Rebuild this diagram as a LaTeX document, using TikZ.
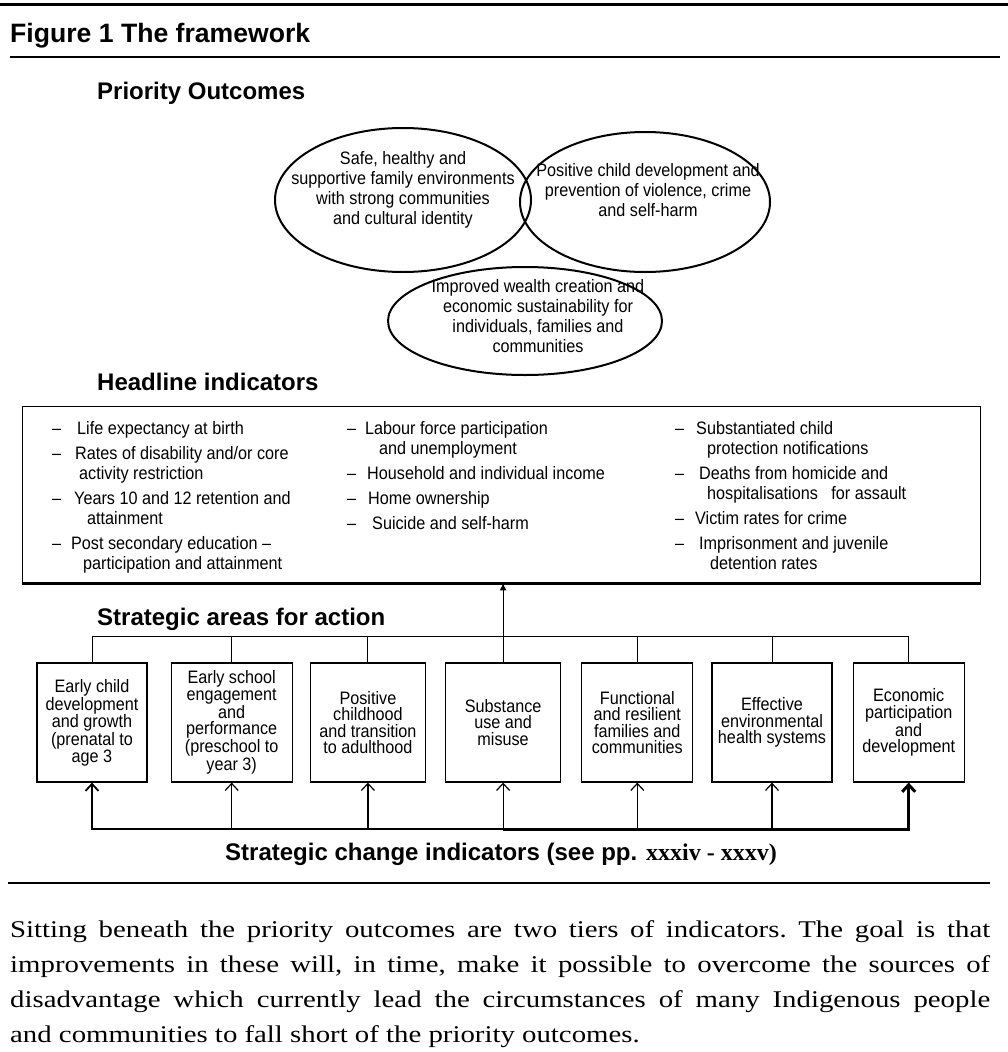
\documentclass[tikz,border=0pt]{standalone}
\usepackage{fontspec}
\setmainfont{Liberation Serif}
\newfontfamily\arialfont{Liberation Sans}
\newfontfamily\narrowfont{Liberation Sans}[FakeStretch=0.9]
\newfontfamily\widefont{Liberation Serif}[FakeStretch=1.2]
\usepackage{tikz}
\usetikzlibrary{shapes.geometric,arrows.meta,positioning,calc}
\tikzstyle{outcome}=[draw,ellipse,line width=2pt,inner sep=0pt]
\tikzstyle{outtext}=[align=center,inner sep=0pt,font=\narrowfont\fontsize{18}{20}\selectfont]
\tikzstyle{heading}=[anchor=base west,inner sep=0pt,font=\arialfont\bfseries\fontsize{24}{28}\selectfont]
\tikzstyle{hlist}=[anchor=north west,inner sep=0pt,align=left,font=\narrowfont\fontsize{18}{20}\selectfont]
\tikzstyle{area}=[draw,line width=1.2pt,minimum height=119pt,inner sep=0pt,align=center,font=\narrowfont\fontsize{18}{16.5}\selectfont]
\tikzstyle{uparrow}=[-{Straight Barb[length=7pt,width=13pt]}]
\newcommand{\hd}[1]{\makebox[#1pt][l]{\textendash}}
\newcommand{\hin}[1]{\hspace*{#1pt}}

\begin{document}
\begin{tikzpicture}[x=1pt,y=-1pt]
\useasboundingbox (0,0) rectangle (1008,1052);
\draw[line width=3pt] (0,4) -- (1008,4);
\node[heading,font=\arialfont\bfseries\fontsize{26.6}{30}\selectfont] (title) at (10,42) {Figure 1 The framework};
\draw[line width=2pt] (10,57) -- (1000,57);

% priority outcomes
\node[heading] (po) at (97,99) {Priority Outcomes};
\node[outcome,minimum width=256pt,minimum height=144pt] (safe) at (403,200) {};
\node[outcome,minimum width=250pt,minimum height=140pt] (child) at (645,202) {};
\node[outcome,minimum width=274pt,minimum height=108pt] (wealth) at (525,321) {};
\node[outtext] (safeText) at (403,190) {Safe, healthy and\\supportive family environments\\with strong communities\\and cultural identity};
\node[outtext] (childText) at (648,190) {Positive child development and\\prevention of violence, crime\\and self-harm};
\node[outtext] (wealthText) at (538,316) {Improved wealth creation and\\economic sustainability for\\individuals, families and\\communities};

% headline indicators
\node[heading] (hi) at (97,390) {Headline indicators};
\node[draw,line width=1.3pt,minimum width=958pt,minimum height=176pt,anchor=north west,inner sep=0pt] (head) at (22,406) {};
\draw[line width=2.5pt] (head.south west) -- (head.south east);
\node[hlist] (col1) at (52,421) {\hd{25}Life expectancy at birth\\[5pt]
  \hd{23}Rates of disability and/or core\\ \hin{27}activity restriction\\[5pt]
  \hd{22}Years 10 and 12 retention and\\ \hin{35}attainment\\[5pt]
  \hd{19}Post secondary education \textendash\\ \hin{31}participation and attainment};
\node[hlist] (col2) at (347,421) {\hd{18}Labour force participation\\ \hin{32}and unemployment\\[5pt]
  \hd{20}Household and individual income\\[5pt]
  \hd{21}Home ownership\\[5pt]
  \hd{25}Suicide and self-harm};
\node[hlist] (col3) at (675,421) {\hd{21}Substantiated child\\ \hin{32}protection notifications\\[5pt]
  \hd{24}Deaths from homicide and\\ \hin{32}hospitalisations\ \ \ for assault\\[5pt]
  \hd{20}Victim rates for crime\\[5pt]
  \hd{24}Imprisonment and juvenile\\ \hin{35}detention rates};

% strategic areas
\node[heading] (sa) at (97,625) {Strategic areas for action};
\node[area,minimum width=110pt] (b1) at (92,722.5) {Early child\\development\\and growth\\(prenatal to\\age 3};
\node[area,minimum width=121pt,right=23pt of b1] (b2) {Early school\\engagement\\and\\performance\\(preschool to\\year 3)};
\node[area,minimum width=115pt,right=17pt of b2] (b3) {Positive\\childhood\\and transition\\to adulthood};
\node[area,minimum width=115pt,right=19pt of b3] (b4) {Substance\\use and\\misuse};
\node[area,minimum width=111pt,right=20pt of b4] (b5) {Functional\\and resilient\\families and\\communities};
\node[area,minimum width=120pt,right=18pt of b5] (b6) {Effective\\environmental\\health systems};
\node[area,minimum width=111pt,right=20pt of b6] (b7) {Economic\\participation\\and\\development};

\coordinate (bar) at (0,636);
\coordinate (foot) at (0,829);
\draw[line width=1pt] (b1.north) -- (b1.north |- bar) -- (b7.north |- bar) -- (b7.north);
\foreach \b in {b2,b3,b5,b6} \draw[line width=1pt] (\b.north) -- (\b.north |- bar);
\draw[line width=1pt,-{Latex[length=7pt,width=7pt]}] (b4.north) -- (b4.north |- head.south);

% strategic change indicators
\draw[uparrow,line width=1.8pt] (b4.south |- foot) -- (b1.south |- foot) -- (b1.south);
\draw[uparrow,line width=3pt] (b4.south |- foot) -- (b7.south |- foot) -- (b7.south);
\foreach \b in {b2,b3,b4,b5,b6} \draw[uparrow,line width=1.2pt] (\b.south |- foot) -- (\b.south);
\node[anchor=base,inner sep=0pt,font=\arialfont\bfseries\fontsize{24}{28}\selectfont] (sci) at (501,860) {Strategic change indicators (see pp. {\rmfamily xxxiv - xxxv)}};
\draw[line width=2.5pt] (8,883) -- (990,883);

\node[anchor=north west,inner sep=0pt,text width=980pt,align=justify,font=\widefont\fontsize{24}{35}\selectfont] (para) at (10,920) {\frenchspacing Sitting beneath the priority outcomes are two tiers of indicators. The goal is that\linebreak improvements in these will, in time, make it possible to overcome the sources of\linebreak disadvantage which currently lead the circumstances of many Indigenous people\linebreak and communities to fall short of the priority outcomes.};
\end{tikzpicture}
\end{document}
